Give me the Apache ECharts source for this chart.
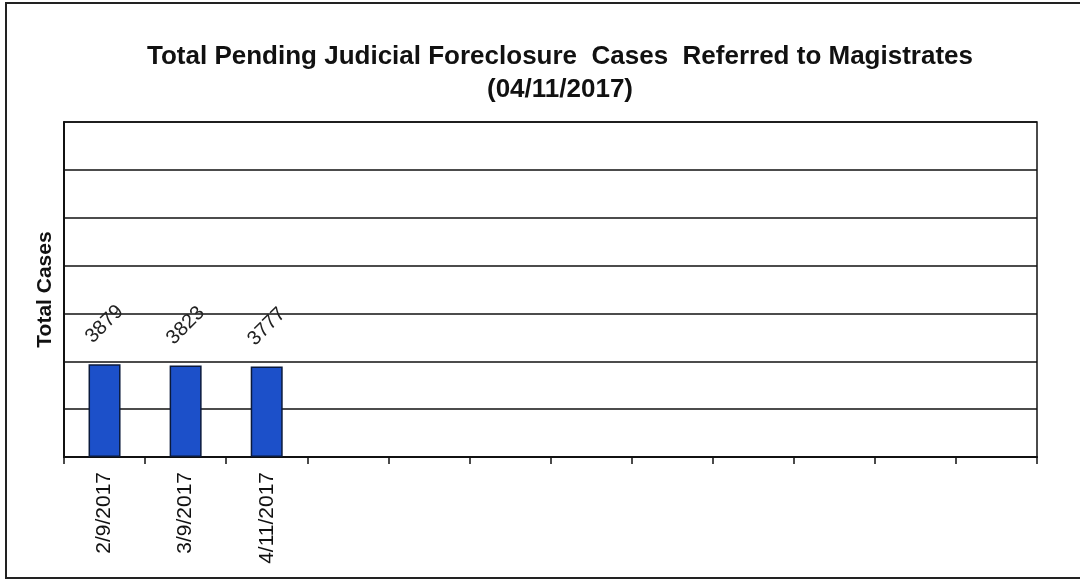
<!DOCTYPE html>
<html>
<head>
<meta charset="utf-8">
<script src="https://cdn.jsdelivr.net/npm/echarts@6/dist/echarts.min.js"></script>
<style>
  html, body { margin: 0; padding: 0; background: #fff; }
  #chart { width: 1080px; height: 579px; }
</style>
</head>
<body>
<div id="chart"></div>
<script>
// 12 slots on the axis, only the first three have data
const categories = ['2/9/2017', '3/9/2017', '4/11/2017', '', '', '', '', '', '', '', '', '']
const cases = [3879, 3823, 3777]

const yMax = 14000
const yStep = 2000

const font = '"Liberation Sans", Arial, sans-serif'

const chart = echarts.init(document.getElementById('chart'))

chart.setOption({
  backgroundColor: '#fff',
  animation: false,
  title: {
    text: 'Total Pending Judicial Foreclosure  Cases  Referred to Magistrates\n(04/11/2017)',
    left: 555,
    textAlign: 'center',
    top: 35,
    textStyle: { fontFamily: font, fontSize: 26, fontWeight: 'bold', color: '#111', lineHeight: 33 },
  },
  graphic: [
    {
      type: 'rect',
      shape: { x: 6, y: 3, width: 1080, height: 575 },
      style: { fill: 'none', stroke: '#222', lineWidth: 2 },
      silent: true,
    },
  ],
  grid: {
    left: 64,
    right: 43,
    top: 122,
    bottom: 122,
    show: true,
    borderColor: '#111',
    borderWidth: 1.5,
  },
  xAxis: {
    type: 'category',
    data: categories,
    axisLine: { lineStyle: { color: '#111', width: 2 } },
    axisTick: { show: true, length: 7, lineStyle: { color: '#111', width: 1.5 } },
    axisLabel: {
      rotate: 90,
      interval: 0,
      margin: 15,
      fontFamily: font,
      fontSize: 21,
      color: '#111',
    },
  },
  yAxis: {
    type: 'value',
    min: 0,
    max: yMax,
    interval: yStep,
    name: 'Total Cases',
    nameLocation: 'middle',
    nameGap: 8,
    nameTextStyle: { fontFamily: font, fontSize: 21, fontWeight: 'bold', color: '#111' },
    axisLine: { show: true, lineStyle: { color: '#111', width: 2 } },
    axisTick: { show: false },
    axisLabel: { show: false },
    splitLine: { lineStyle: { color: '#111', width: 1.5 } },
  },
  series: [
    {
      type: 'bar',
      data: cases,
      barWidth: 32,
      itemStyle: { color: '#1c50c9', borderColor: '#0b1a3c', borderWidth: 1.5 },
      label: {
        show: true,
        position: 'top',
        distance: 40,
        rotate: 45,
        align: 'center',
        verticalAlign: 'middle',
        fontFamily: font,
        fontSize: 20,
        color: '#222',
      },
    },
  ],
})
</script>
</body>
</html>
